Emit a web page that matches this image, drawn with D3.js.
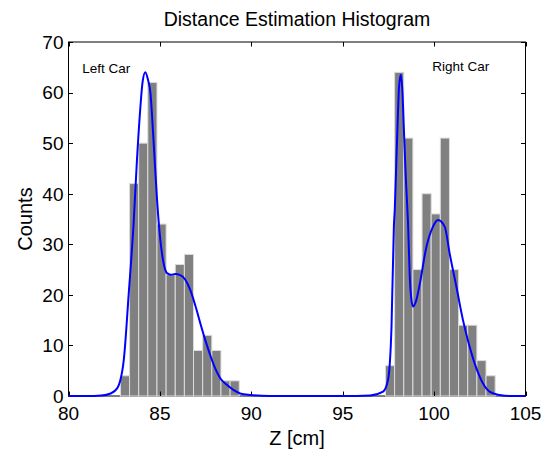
<!DOCTYPE html>
<html>
<head>
<meta charset="utf-8">
<script src="https://cdn.jsdelivr.net/npm/d3@7/dist/d3.min.js"></script>
<style>
  html, body { margin: 0; padding: 0; background: #fff; }
  text { font-family: "Liberation Sans", Arial, sans-serif; fill: #000; }
</style>
</head>
<body>
<svg id="chart" width="547" height="451"></svg>
<script>
// ---- data ----
const binWidth = 0.5;
const leftBins = [83.09, 83.59, 84.09, 84.59, 85.09, 85.59, 86.09, 86.59, 87.09, 87.59, 88.09, 88.59, 89.09];
const leftCounts = [4, 42, 50, 62, 34, 24, 26, 28, 9, 12, 9, 3, 3];
const rightBins = [97.59, 98.09, 98.59, 99.09, 99.59, 100.09, 100.59, 101.09, 101.59, 102.09, 102.59, 103.09];
const rightCounts = [6, 64, 51, 25, 40, 36, 51, 25, 14, 14, 7, 4];

const curveX = [80, 81, 81.8, 82.3, 82.66, 83.02, 83.29, 83.56, 83.75, 83.93, 84.05, 84.2, 84.35, 84.48, 84.66, 84.84, 85.02, 85.2, 85.39, 85.6, 85.84, 86.11, 86.39, 86.66, 86.93, 87.21, 87.48, 87.75, 88.02, 88.3, 88.66, 89.02, 89.39, 89.93, 91, 93, 95, 96.5, 97.21, 97.48, 97.67, 97.8, 97.85, 97.94, 98.03, 98.08, 98.18, 98.27, 98.34, 98.45, 98.58, 98.67, 98.76, 98.85, 99.03, 99.21, 99.58, 99.94, 100.21, 100.58, 100.85, 101.22, 101.58, 101.94, 102.31, 102.67, 103.03, 103.58, 104.2, 105];
const curveY = [0, 0, 0.1, 0.5, 1.5, 7, 20, 34, 47, 57, 62, 64, 62.5, 60, 50, 39, 31, 26.3, 24.3, 24, 24.1, 23.9, 23, 21, 18, 14.4, 11.1, 8.1, 5.5, 3.5, 2.2, 1.2, 0.5, 0.2, 0, 0, 0, 0.1, 0.85, 3.2, 13.7, 33.5, 37, 47, 56.6, 61, 63.5, 60, 53.3, 43.4, 33.5, 23.6, 19, 17.7, 19, 22, 29.5, 33.5, 34.8, 33.5, 28.2, 21.6, 15, 9.8, 5.5, 2.5, 0.85, 0.2, 0, 0];

const xTicks = [80, 85, 90, 95, 100, 105];
const yTicks = [0, 10, 20, 30, 40, 50, 60, 70];
const titleText = "Distance Estimation Histogram";
const xLabel = "Z [cm]";
const yLabel = "Counts";
const annotations = [{ text: "Left Car", x: 80.75, y: 63.9 }, { text: "Right Car", x: 99.9, y: 64.2 }];

// ---- layout ----
const svg = d3.select("#chart");
const L = 68.5, R = 525.5, T = 42, B = 396;
const x = d3.scaleLinear().domain([80, 105]).range([L, R]);
const y = d3.scaleLinear().domain([0, 70]).range([B, T]);

svg.append("rect").attr("width", 547).attr("height", 451).attr("fill", "#fff");

// axes box
svg.append("rect").attr("x", L).attr("y", T).attr("width", R - L).attr("height", B - T)
  .attr("fill", "none").attr("stroke", "#000").attr("stroke-width", 1);

// bars
const bars = leftBins.map((c, i) => ({ c, v: leftCounts[i] }))
  .concat(rightBins.map((c, i) => ({ c, v: rightCounts[i] })));
svg.append("g").selectAll("rect").data(bars).join("rect")
  .attr("x", d => x(d.c - binWidth / 2))
  .attr("width", d => x(d.c + binWidth / 2) - x(d.c - binWidth / 2))
  .attr("y", d => y(d.v))
  .attr("height", d => y(0) - y(d.v))
  .attr("fill", "#808080")
  .attr("stroke", "#dcdcdc")
  .attr("stroke-width", 1);

// ticks (inward, all four sides)
const tl = 4.5;
const tg = svg.append("g").attr("stroke", "#000").attr("stroke-width", 1);
xTicks.forEach(t => {
  const px = Math.round(x(t)) + 0.5;
  tg.append("line").attr("x1", px).attr("x2", px).attr("y1", B).attr("y2", B - tl);
  tg.append("line").attr("x1", px).attr("x2", px).attr("y1", T).attr("y2", T + tl);
});
yTicks.forEach(t => {
  const py = Math.round(y(t)) + 0.5;
  tg.append("line").attr("x1", L).attr("x2", L + tl).attr("y1", py).attr("y2", py);
  tg.append("line").attr("x1", R).attr("x2", R - tl).attr("y1", py).attr("y2", py);
});

// curve
const pts = curveX.map((v, i) => [v, curveY[i]]);
svg.append("path").datum(pts)
  .attr("d", d3.line().x(d => x(d[0])).y(d => y(d[1])).curve(d3.curveMonotoneX))
  .attr("fill", "none").attr("stroke", "#0000ff").attr("stroke-width", 2);

// tick labels
svg.append("g").selectAll("text").data(xTicks).join("text")
  .attr("x", d => x(d)).attr("y", 420).attr("text-anchor", "middle")
  .attr("font-size", 19).text(d => d);
svg.append("g").selectAll("text").data(yTicks).join("text")
  .attr("x", 63.5).attr("y", d => y(d) + 6.8).attr("text-anchor", "end")
  .attr("font-size", 19).text(d => d);

// titles
svg.append("text").attr("x", 297).attr("y", 26).attr("text-anchor", "middle")
  .attr("font-size", 19.5).text(titleText);
svg.append("text").attr("x", 297).attr("y", 445).attr("text-anchor", "middle")
  .attr("font-size", 20).text(xLabel);
svg.append("text").attr("transform", "translate(31.5,219) rotate(-90)")
  .attr("text-anchor", "middle").attr("font-size", 20).text(yLabel);

// annotations
svg.append("g").selectAll("text").data(annotations).join("text")
  .attr("x", d => x(d.x)).attr("y", d => y(d.y))
  .attr("font-size", 13.5).text(d => d.text);
</script>
</body>
</html>
